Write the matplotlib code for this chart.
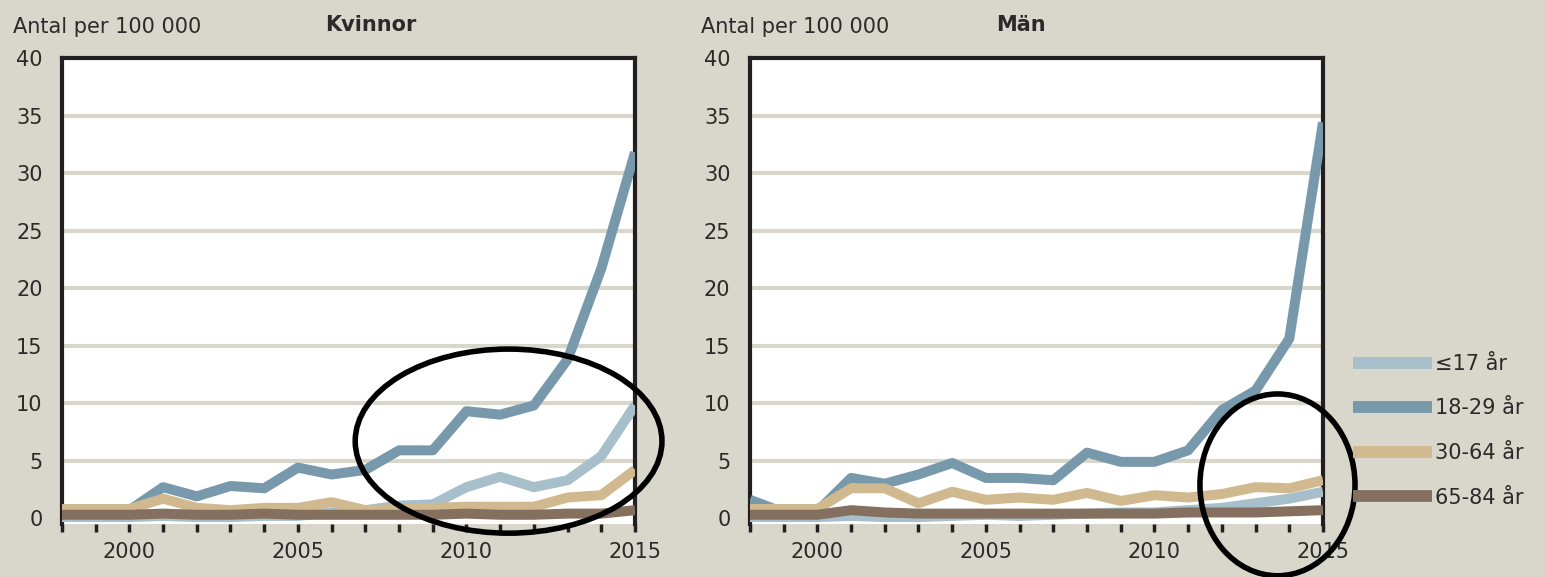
import numpy as np
import matplotlib.pyplot as plt
from matplotlib.patches import Ellipse

# Data (antal per 100 000), 1998-2015
years = np.arange(1998, 2016)
groups = ['≤17 år', '18-29 år', '30-64 år', '65-84 år']
colors = ['#A7BFCA', '#7898AC', '#D0B98F', '#85705F']

kvinnor_u17 = [0.1, 0.1, 0.1, 0.2, 0.1, 0.1, 0.2, 0.2, 0.5, 0.7, 1.1, 1.2, 2.7, 3.6, 2.7, 3.3, 5.4, 9.8]
kvinnor_18_29 = [0.5, 0.7, 0.7, 2.7, 1.9, 2.8, 2.6, 4.4, 3.8, 4.2, 5.9, 5.9, 9.3, 9.0, 9.8, 13.8, 21.7, 31.8]
kvinnor_30_64 = [0.8, 0.8, 0.8, 1.7, 0.9, 0.7, 0.9, 0.9, 1.4, 0.7, 0.8, 0.9, 1.0, 1.0, 1.0, 1.8, 2.0, 4.2]
kvinnor_65_84 = [0.3, 0.3, 0.3, 0.4, 0.3, 0.3, 0.4, 0.3, 0.3, 0.3, 0.3, 0.3, 0.4, 0.3, 0.3, 0.4, 0.4, 0.7]

man_u17 = [0.1, 0.1, 0.1, 0.2, 0.1, 0.1, 0.2, 0.3, 0.2, 0.3, 0.4, 0.5, 0.5, 0.7, 0.9, 1.3, 1.7, 2.3]
man_18_29 = [1.6, 0.5, 0.6, 3.5, 3.0, 3.8, 4.8, 3.5, 3.5, 3.3, 5.7, 4.9, 4.9, 5.9, 9.4, 11.1, 15.6, 34.4]
man_30_64 = [0.8, 0.8, 0.8, 2.6, 2.6, 1.3, 2.3, 1.6, 1.8, 1.6, 2.2, 1.5, 2.0, 1.8, 2.1, 2.7, 2.6, 3.3]
man_65_84 = [0.3, 0.3, 0.3, 0.7, 0.5, 0.4, 0.4, 0.4, 0.4, 0.4, 0.4, 0.4, 0.4, 0.5, 0.5, 0.5, 0.6, 0.7]

bg = '#D9D7CC'
txt = '#2A2A2A'
plt.rcParams['font.family'] = ['DejaVu Sans']

fig = plt.figure(figsize=(15.45, 5.77), dpi=100, facecolor=bg)
ax1 = fig.add_axes([0.0401, 0.0919, 0.3709, 0.8076])
ax2 = fig.add_axes([0.4854, 0.0919, 0.3709, 0.8076])

panels = [
    (ax1, 'Kvinnor', 0.46, [kvinnor_u17, kvinnor_18_29, kvinnor_30_64, kvinnor_65_84]),
    (ax2, 'Män', 0.43, [man_u17, man_18_29, man_30_64, man_65_84]),
]

for ax, title, tx, series in panels:
    ax.set_facecolor('white')
    for vals, col, lab in zip(series, colors, groups):
        ax.plot(years, vals, color=col, lw=7.2, label=lab, solid_capstyle='butt', zorder=3)
    ax.set_xlim(1998, 2015)
    ax.set_ylim(-0.5, 40)
    ax.set_yticks(range(0, 45, 5))
    ax.set_xticks([2000, 2005, 2010, 2015])
    ax.set_xticks(years, minor=True)
    for y in range(5, 40, 5):
        ax.axhline(y, color=bg, lw=3, zorder=1)
    for s in ['left', 'top', 'right']:
        ax.spines[s].set_linewidth(3)
        ax.spines[s].set_color('#231F20')
    ax.spines['bottom'].set_visible(False)
    ax.tick_params(axis='y', length=0, pad=14, labelsize=15, labelcolor=txt)
    ax.tick_params(axis='x', which='both', length=6, width=2.5, color='#231F20',
                   direction='out', pad=7, labelsize=15, labelcolor=txt)
    ax.text(-0.085, 1.045, 'Antal per 100 000', transform=ax.transAxes, fontsize=15,
            color=txt, ha='left', va='bottom')
    ax.text(tx, 1.05, title, transform=ax.transAxes, fontsize=15, fontweight='bold',
            color=txt, ha='left', va='bottom')

# Annotation ellipses
ax1.add_patch(Ellipse((2011.25, 6.7), 9.1, 16.0, fill=False, lw=4, ec='black',
                      clip_on=False, zorder=5))
ax2.add_patch(Ellipse((2013.65, 2.9), 4.6, 15.8, fill=False, lw=4, ec='black',
                      clip_on=False, zorder=5))

leg = ax2.legend(loc='center left', bbox_to_anchor=(1.037, 0.2), frameon=False,
                 fontsize=15, handlelength=3.8, handletextpad=0.15, labelspacing=1.18,
                 borderaxespad=0)
for h in leg.get_lines():
    h.set_linewidth(8.5)
for t in leg.get_texts():
    t.set_color(txt)

fig.savefig('out.png', dpi=100, facecolor=bg)
